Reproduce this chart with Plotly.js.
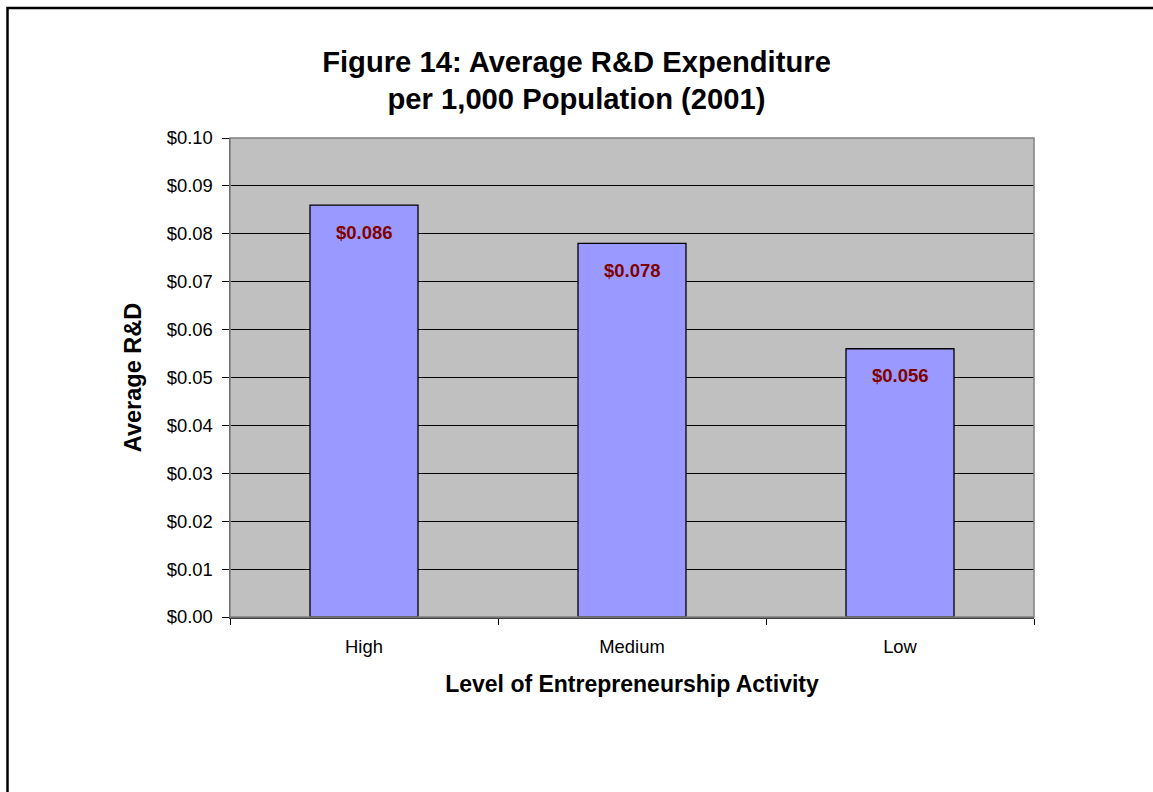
<!DOCTYPE html>
<html><head><meta charset="utf-8">
<script src="https://cdn.plot.ly/plotly-3.0.1.min.js"></script>
<style>html,body{margin:0;padding:0;background:#fff;}#chart{width:1153px;height:792px;}</style>
</head><body><div id="chart"></div>
<script>
const categories = ["High", "Medium", "Low"];
const values = [0.086, 0.078, 0.056];
const labels = ["$0.086", "$0.078", "$0.056"];
const yTicks = [0, 0.01, 0.02, 0.03, 0.04, 0.05, 0.06, 0.07, 0.08, 0.09, 0.10];
const yTickText = ["$0.00","$0.01","$0.02","$0.03","$0.04","$0.05","$0.06","$0.07","$0.08","$0.09","$0.10"];

const font = "Liberation Sans, Arial, sans-serif";
const L = 230, R = 1034, T = 138, B = 617;
const W = 1153, H = 792;
const pw = R - L, ph = B - T;

const trace = {
  type: "bar", x: categories, y: values,
  marker: {color: "#9999FF", line: {color: "#000000", width: 1.3}},
  width: 0.403, hoverinfo: "skip"
};

const annotations = categories.map((c, i) => ({
  x: c, y: values[i], xref: "x", yref: "y", text: "<b>" + labels[i] + "</b>",
  showarrow: false, yshift: -27, font: {family: font, size: 18.5, color: "#800000"}
}));

const layout = {
  width: W, height: H,
  margin: {l: L, r: W - R, t: T, b: H - B},
  paper_bgcolor: "#ffffff", plot_bgcolor: "#C0C0C0",
  showlegend: false,
  title: {text: "<b>Figure 14: Average R&D Expenditure<br>per 1,000 Population (2001)</b>",
    font: {family: font, size: 29.2, color: "#000"}, x: 0.5, xanchor: "center", y: 0.9097, yanchor: "middle"},
  xaxis: {
    type: "category", tickson: "boundaries", ticks: "outside", ticklen: 6, tickcolor: "#000",
    ticklabelstandoff: 12,
    showline: true, linecolor: "#404040", linewidth: 1.5,
    tickfont: {family: font, size: 18.4, color: "#000"}, showgrid: false,
    title: {text: "<b>Level of Entrepreneurship Activity</b>", font: {family: font, size: 23, color: "#000"}, standoff: 20}
  },
  yaxis: {
    range: [0, 0.1], tickvals: yTicks, ticktext: yTickText, ticks: "outside", ticklen: 7, tickcolor: "#000",
    ticklabelstandoff: 5,
    showline: true, linecolor: "#404040", linewidth: 1.5,
    showgrid: true, gridcolor: "#000000", gridwidth: 1, zeroline: false,
    tickfont: {family: font, size: 18.4, color: "#000"},
    title: {text: "<b>Average R&D</b>", font: {family: font, size: 23.5, color: "#000"}, standoff: 18}
  },
  annotations: annotations,
  shapes: [
    {type: "rect", xref: "paper", yref: "paper", x0: 0, x1: 1, y0: 0, y1: 1,
     line: {color: "#808080", width: 1.5}, fillcolor: "rgba(0,0,0,0)", layer: "above"},
    {type: "rect", xref: "paper", yref: "paper",
     x0: (7.5 - L) / pw, x1: (W + 20 - L) / pw, y0: (B - (H + 20)) / ph, y1: (B - 8) / ph,
     line: {color: "#000000", width: 2.5}, fillcolor: "rgba(0,0,0,0)"}
  ]
};

Plotly.newPlot("chart", [trace], layout, {staticPlot: true, displayModeBar: false});
</script></body></html>
